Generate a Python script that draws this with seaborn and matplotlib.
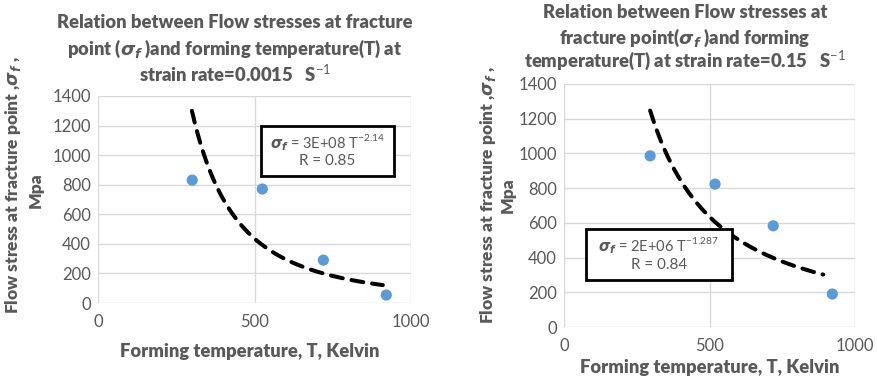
import numpy as np
import pandas as pd
import seaborn as sns
import matplotlib
matplotlib.use("Agg")
import matplotlib.pyplot as plt

sns.set_theme(style="white")
plt.rcParams["font.family"] = ["Lato", "DejaVu Sans"]
plt.rcParams["mathtext.fontset"] = "custom"
plt.rcParams["mathtext.rm"] = "Lato"
plt.rcParams["mathtext.it"] = "DejaVu Sans:italic:bold"
plt.rcParams["mathtext.bf"] = "Lato:bold"

# Measured flow stress at fracture (MPa) vs forming temperature (K)
temp_a = [301, 525, 720, 921]
stress_a = [831, 771, 290, 54]
temp_b = [296, 519, 719, 922]
stress_b = [986, 823, 583, 190]

# Power-law trend lines sigma_f = A * T^n
coef_a, expo_a, r_a = 2.6e8, -2.14, 0.85
coef_b, expo_b, r_b = 1.89e6, -1.287, 0.84
trend_range_a = (300, 910)
trend_range_b = (296, 891)

x_ticks = [0, 500, 1000]
y_ticks = [0, 200, 400, 600, 800, 1000, 1200, 1400]

GRAY = "#595959"
BLUE = "#5B9BD5"
GRID = "#d9d9d9"

W, H = 877, 380
fig = plt.figure(figsize=(W / 100, H / 100), dpi=100)


def px_axes(x0, y0, x1, y1):
    return fig.add_axes([x0 / W, 1 - y1 / H, (x1 - x0) / W, (y1 - y0) / H])


def draw_panel(ax, temps, stresses, coef, expo, trend_range):
    df = pd.DataFrame({"T": temps, "sigma": stresses})
    sns.scatterplot(data=df, x="T", y="sigma", ax=ax, s=65, color=BLUE,
                    edgecolor="none", zorder=4)
    tt = np.linspace(trend_range[0], trend_range[1], 200)
    ax.plot(tt, coef * tt ** expo, color="black", lw=2.9,
            dashes=(3.0, 2.2), dash_capstyle="round", zorder=3)
    ax.set_xlim(0, 1000)
    ax.set_ylim(0, 1400)
    ax.set_xticks(x_ticks)
    ax.set_yticks(y_ticks)
    ax.grid(True, color=GRID, lw=1)
    ax.set_axisbelow(True)
    for sp in ax.spines.values():
        sp.set_visible(False)
    ax.tick_params(axis="both", length=0, labelsize=12, colors=GRAY, pad=5)
    ax.tick_params(axis="x", pad=8)
    ax.set_xlabel("")
    ax.set_ylabel("")


def eq_box(ax, x0, y0, x1, y1, coef_txt, expo, r):
    ax.add_patch(plt.Rectangle((x0, y0), x1 - x0, y1 - y0, facecolor="white",
                               edgecolor="black", lw=2, zorder=5,
                               transform=ax.transData, clip_on=False))
    cx = (x0 + x1) / 2
    h = y1 - y0
    ax.text(cx, y1 - h * 0.33, r"$\sigma_f$ = " + coef_txt + r" T$^{" + f"{expo}" + r"}$",
            ha="center", va="center", fontsize=10.5, color=GRAY, zorder=6)
    ax.text(cx, y0 + h * 0.3, f"R = {r}", ha="center", va="center",
            fontsize=11, color=GRAY, zorder=6)


# Left panel: strain rate 0.0015 1/s
ax1 = px_axes(98, 96, 411, 303)
draw_panel(ax1, temp_a, stress_a, coef_a, expo_a, trend_range_a)
eq_box(ax1, 521, 859, 946, 1197, "3E+08", expo_a, r_a)

# Right panel: strain rate 0.15 1/s
ax2 = px_axes(564, 84, 855, 327)
draw_panel(ax2, temp_b, stress_b, coef_b, expo_b, trend_range_b)
eq_box(ax2, 75, 271, 577, 565, "2E+06", expo_b, r_b)

title_kw = dict(ha="center", va="center", fontsize=13.2, fontweight="heavy", color=GRAY)
sig = r"$\sigma_f$"
fig.text(235 / W, 1 - 23 / H, "Relation between Flow stresses at fracture", **title_kw)
fig.text(235 / W, 1 - 49 / H, "point (" + sig + " )and forming temperature(T) at", **title_kw)
fig.text(235 / W, 1 - 73 / H, r"strain rate=0.0015   S$^{-1}$", **title_kw)

fig.text(685 / W, 1 - 13 / H, "Relation between Flow stresses at", **title_kw)
fig.text(685 / W, 1 - 38 / H, "fracture point(" + sig + " )and forming", **title_kw)
fig.text(685 / W, 1 - 61 / H, r"temperature(T) at strain rate=0.15   S$^{-1}$", **title_kw)

label_kw = dict(ha="center", va="center", fontsize=12.5, fontweight="heavy", color=GRAY)
ylab = "Flow stress at fracture point ," + sig + " ,"
fig.text(13 / W, 1 - 185 / H, ylab, rotation=90, **label_kw)
fig.text(36 / W, 1 - 190 / H, "Mpa", rotation=90, **label_kw)
fig.text(488 / W, 1 - 195 / H, ylab, rotation=90, **label_kw)
fig.text(508 / W, 1 - 195 / H, "Mpa", rotation=90, **label_kw)

xlab_kw = dict(label_kw, fontsize=13.2)
fig.text(250 / W, 1 - 352 / H, "Forming temperature, T, Kelvin", **xlab_kw)
fig.text(710 / W, 1 - 367 / H, "Forming temperature, T, Kelvin", **xlab_kw)

fig.savefig("out.png", dpi=100, facecolor="white")
